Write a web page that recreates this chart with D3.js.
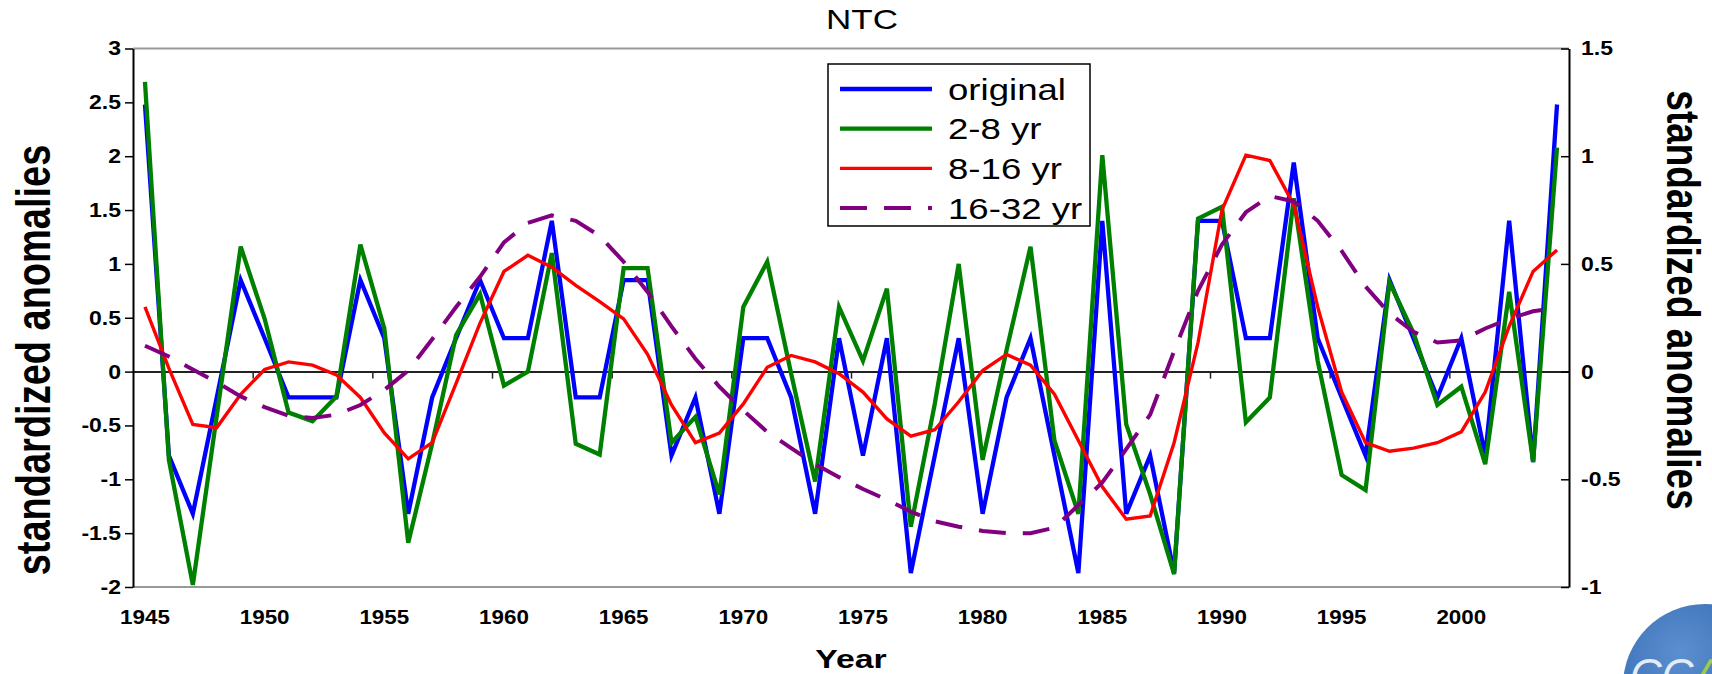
<!DOCTYPE html>
<html>
<head>
<meta charset="utf-8">
<script src="https://cdn.jsdelivr.net/npm/d3@7"></script>
<style>
  body { margin: 0; background: #fff; }
  text { font-family: "Liberation Sans", Arial, sans-serif; }
</style>
</head>
<body>
<div id="chart"></div>
<script>
// categories
var years = [1945, 1946, 1947, 1948, 1949, 1950, 1951, 1952, 1953, 1954,
             1955, 1956, 1957, 1958, 1959, 1960, 1961, 1962, 1963, 1964,
             1965, 1966, 1967, 1968, 1969, 1970, 1971, 1972, 1973, 1974,
             1975, 1976, 1977, 1978, 1979, 1980, 1981, 1982, 1983, 1984,
             1985, 1986, 1987, 1988, 1989, 1990, 1991, 1992, 1993, 1994,
             1995, 1996, 1997, 1998, 1999, 2000, 2001, 2002, 2003, 2004];

// series values (standardized anomalies, left axis units)
var original = [2.48, -0.78, -1.32, -0.24, 0.85, 0.31, -0.24, -0.24, -0.24, 0.85,
                0.31, -1.32, -0.24, 0.31, 0.85, 0.31, 0.31, 1.40, -0.24, -0.24,
                0.85, 0.85, -0.78, -0.24, -1.32, 0.31, 0.31, -0.24, -1.32, 0.31,
                -0.78, 0.31, -1.87, -0.78, 0.31, -1.32, -0.24, 0.31, -0.78, -1.87,
                1.40, -1.32, -0.78, -1.87, 1.40, 1.40, 0.31, 0.31, 1.94, 0.31,
                -0.24, -0.78, 0.85, 0.31, -0.24, 0.31, -0.78, 1.40, -0.84, 2.48];

var band2to8 = [2.69, -0.82, -1.98, -0.41, 1.16, 0.49, -0.38, -0.46, -0.23, 1.18,
                0.40, -1.59, -0.67, 0.34, 0.72, -0.13, 0.00, 1.10, -0.67, -0.77,
                0.96, 0.96, -0.66, -0.42, -1.14, 0.60, 1.02, -0.02, -1.02, 0.60,
                0.10, 0.77, -1.44, -0.30, 1.00, -0.82, 0.20, 1.16, -0.64, -1.32,
                2.01, -0.49, -1.14, -1.88, 1.42, 1.53, -0.47, -0.24, 1.61, 0.10,
                -0.96, -1.10, 0.83, 0.36, -0.31, -0.14, -0.86, 0.74, -0.84, 2.08];

var band8to16 = [0.60, 0.03, -0.49, -0.52, -0.21, 0.02, 0.09, 0.06, -0.03, -0.24,
                 -0.57, -0.81, -0.66, -0.11, 0.45, 0.93, 1.08, 0.97, 0.80, 0.65,
                 0.49, 0.16, -0.31, -0.66, -0.57, -0.30, 0.04, 0.15, 0.09, -0.02,
                 -0.19, -0.44, -0.60, -0.54, -0.28, 0.01, 0.16, 0.06, -0.21, -0.64,
                 -1.07, -1.37, -1.34, -0.66, 0.27, 1.50, 2.01, 1.96, 1.55, 0.60,
                 -0.19, -0.66, -0.74, -0.71, -0.66, -0.56, -0.19, 0.42, 0.93, 1.13];

var band16to32 = [0.24, 0.14, 0.02, -0.10, -0.23, -0.33, -0.41, -0.43, -0.40, -0.31,
                  -0.17, 0.01, 0.30, 0.60, 0.88, 1.20, 1.38, 1.45, 1.40, 1.26,
                  1.02, 0.74, 0.42, 0.12, -0.14, -0.36, -0.56, -0.71, -0.86, -0.98,
                  -1.09, -1.19, -1.30, -1.39, -1.44, -1.48, -1.50, -1.50, -1.45, -1.24,
                  -1.03, -0.72, -0.40, 0.19, 0.75, 1.18, 1.48, 1.63, 1.58, 1.40,
                  1.12, 0.79, 0.54, 0.37, 0.27, 0.29, 0.40, 0.49, 0.56, 0.59];

var seriesNames = ["original", "2-8 yr", "8-16 yr", "16-32 yr"];

// tick labels
var leftTicks = [3, 2.5, 2, 1.5, 1, 0.5, 0, -0.5, -1, -1.5, -2];
var rightTicks = [1.5, 1, 0.5, 0, -0.5, -1];
var yearLabels = [1945, 1950, 1955, 1960, 1965, 1970, 1975, 1980, 1985, 1990, 1995, 2000];

var width = 1712, height = 674;
var plot = {left: 133, right: 1569, top: 48.5, bottom: 587};

var svg = d3.select("#chart")
  .append("svg")
    .attr("width", width)
    .attr("height", height)
    .style("background", "#fff");

// the source picture is a bit wider than natural Arial, stretch labels to match
function widen(sel, k) {
  sel.each(function() {
    var w = this.getComputedTextLength();
    d3.select(this)
      .attr("textLength", w * k)
      .attr("lengthAdjust", "spacingAndGlyphs");
  });
}

// scales
var x = d3.scaleBand().domain(years).range([plot.left, plot.right]);
var xEdge = d3.scaleLinear()
  .domain([years[0] - 0.5, years[years.length - 1] + 0.5])
  .range([plot.left, plot.right]);
var y = d3.scaleLinear().domain([-2, 3]).range([plot.bottom, plot.top]);
var yRight = d3.scaleLinear().domain([-1, 1.5]).range([plot.bottom, plot.top]);

// grey top/bottom frame of the plot area
svg.append("g")
  .selectAll("line")
  .data([3, -2])
  .enter()
  .append("line")
    .attr("x1", plot.left)
    .attr("x2", plot.right)
    .attr("y1", d => y(d))
    .attr("y2", d => y(d))
    .attr("stroke", "#999")
    .attr("stroke-width", 2);

// year labels along the bottom
var xLabels = svg.append("g")
  .attr("transform", "translate(0," + plot.bottom + ")")
  .call(d3.axisBottom(x).tickValues(yearLabels).tickSize(0).tickPadding(23));
xLabels.select(".domain").remove();
xLabels.selectAll("text")
  .attr("font-size", 20)
  .attr("font-weight", "bold")
  .attr("fill", "#000")
  .call(widen, 1.12);

// zero line with the category tick marks
var zeroAxis = svg.append("g")
  .attr("transform", "translate(0," + y(0) + ")")
  .call(d3.axisBottom(xEdge)
    .tickValues(yearLabels.slice(1).map(d => d - 0.5))
    .tickSize(7)
    .tickSizeOuter(0)
    .tickFormat(""));
zeroAxis.select(".domain").attr("stroke", "#222").attr("stroke-width", 2);
zeroAxis.selectAll(".tick line").attr("stroke", "#222").attr("stroke-width", 1.5);

// left axis
var leftAxis = svg.append("g")
  .attr("transform", "translate(" + plot.left + ",0)")
  .call(d3.axisLeft(y).tickValues(leftTicks).tickSize(8).tickSizeOuter(0)
    .tickPadding(4).tickFormat(d => String(d)));
leftAxis.select(".domain").attr("stroke", "#000").attr("stroke-width", 2);
leftAxis.selectAll(".tick line").attr("stroke", "#000").attr("stroke-width", 1.5);
leftAxis.selectAll("text")
  .attr("font-size", 20)
  .attr("font-weight", "bold")
  .attr("fill", "#000")
  .call(widen, 1.15);

// right axis, ticks pointing into the plot
var rightAxis = svg.append("g")
  .attr("transform", "translate(" + plot.right + ",0)")
  .call(d3.axisRight(yRight).tickValues(rightTicks).tickSizeInner(-8).tickSizeOuter(0)
    .tickPadding(12).tickFormat(d => String(d)));
rightAxis.select(".domain").attr("stroke", "#000").attr("stroke-width", 2);
rightAxis.selectAll(".tick line").attr("stroke", "#000").attr("stroke-width", 1.5);
rightAxis.selectAll("text")
  .attr("font-size", 20)
  .attr("font-weight", "bold")
  .attr("fill", "#000")
  .call(widen, 1.15);

// series
var series = [
  {name: seriesNames[0], values: original,   color: "#0000ff", width: 4.3, dash: null},
  {name: seriesNames[1], values: band2to8,   color: "#008000", width: 4.3, dash: null},
  {name: seriesNames[2], values: band8to16,  color: "#ff0000", width: 3.4, dash: null},
  {name: seriesNames[3], values: band16to32, color: "#800080", width: 4,   dash: "27,17"}
];

var line = d3.line()
  .x((d, i) => x(years[i]) + x.bandwidth() / 2)
  .y(d => y(d));

svg.append("g")
  .selectAll("path")
  .data(series)
  .enter()
  .append("path")
    .attr("d", d => line(d.values))
    .attr("fill", "none")
    .attr("stroke", d => d.color)
    .attr("stroke-width", d => d.width)
    .attr("stroke-linejoin", "miter")
    .attr("stroke-dasharray", d => d.dash);

// legend
var legend = svg.append("g");
legend.append("rect")
  .attr("x", 828).attr("y", 64)
  .attr("width", 262).attr("height", 162)
  .attr("fill", "#fff")
  .attr("stroke", "#000")
  .attr("stroke-width", 1.5);

var rowY = d3.scalePoint().domain(seriesNames).range([89, 208]);
var rows = legend.selectAll(".row")
  .data(series)
  .enter()
  .append("g")
    .attr("class", "row")
    .attr("transform", d => "translate(0," + rowY(d.name) + ")");
rows.append("line")
  .attr("x1", 840).attr("x2", 932)
  .attr("stroke", d => d.color)
  .attr("stroke-width", d => d.width)
  .attr("stroke-dasharray", d => d.dash);
rows.append("text")
  .attr("transform", "translate(948,10.5) scale(1.22,1)")
  .attr("font-size", 30)
  .attr("fill", "#000")
  .text(d => d.name);

// titles
svg.append("text")
  .attr("transform", "translate(862,29) scale(1.25,1)")
  .attr("text-anchor", "middle")
  .attr("font-size", 28)
  .text("NTC");

svg.append("text")
  .attr("transform", "translate(851,668) scale(1.3,1)")
  .attr("text-anchor", "middle")
  .attr("font-size", 26)
  .attr("font-weight", "bold")
  .text("Year");

svg.append("text")
  .attr("transform", "translate(50,360) scale(1.25,1) rotate(-90)")
  .attr("text-anchor", "middle")
  .attr("font-size", 38)
  .attr("font-weight", "bold")
  .text("standardized anomalies");

// faint leftover label behind the right title
svg.append("clipPath")
  .attr("id", "ghostClip")
  .append("rect")
    .attr("x", 1650).attr("y", 150).attr("width", 9).attr("height", 360);
svg.append("text")
  .attr("clip-path", "url(#ghostClip)")
  .attr("transform", "translate(1638,331) rotate(90)")
  .attr("text-anchor", "middle")
  .attr("font-size", 28)
  .attr("fill", "#444")
  .text("standardized anomalies");

svg.append("text")
  .attr("transform", "translate(1667,300) scale(1.25,1) rotate(90)")
  .attr("text-anchor", "middle")
  .attr("font-size", 37)
  .attr("font-weight", "bold")
  .text("standardized anomalies");

// corner logo
var grad = svg.append("defs")
  .append("radialGradient")
    .attr("id", "logoGrad")
    .attr("cx", "35%").attr("cy", "30%").attr("r", "75%");
grad.append("stop").attr("offset", "0%").attr("stop-color", "#5b8fd0");
grad.append("stop").attr("offset", "100%").attr("stop-color", "#2b5fa8");

svg.append("circle")
  .attr("cx", 1705).attr("cy", 686).attr("r", 82)
  .attr("fill", "url(#logoGrad)");

var logoText = svg.append("text")
  .attr("x", 1630).attr("y", 690)
  .attr("font-size", 44)
  .attr("font-style", "italic")
  .attr("fill", "#e4edf7");
logoText.append("tspan").text("CC");
logoText.append("tspan").attr("fill", "#9ccc4a").text("A");
</script>
</body>
</html>
